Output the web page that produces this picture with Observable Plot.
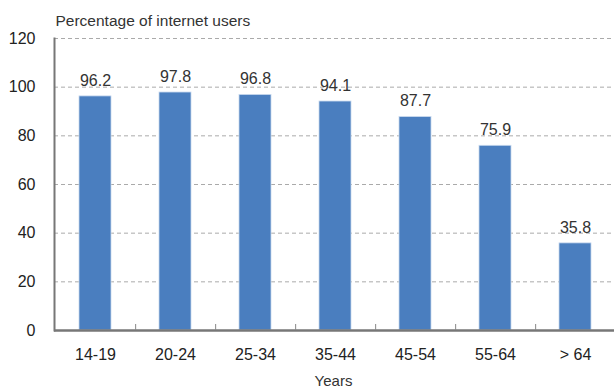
<!DOCTYPE html>
<html>
<head>
<meta charset="utf-8">
<script src="https://cdn.jsdelivr.net/npm/d3@7"></script>
<script src="https://cdn.jsdelivr.net/npm/@observablehq/plot@0.6"></script>
<style>
  html, body { margin: 0; padding: 0; background: #fff; }
  #chart svg { display: block; }
</style>
</head>
<body>
<div id="chart"></div>
<script>
// Share of internet users by age group
const ageGroups = ["14-19", "20-24", "25-34", "35-44", "45-54", "55-64", "> 64"];
const userShare = [96.2, 97.8, 96.8, 94.1, 87.7, 75.9, 35.8];
const yTicks = [0, 20, 40, 60, 80, 100, 120];

const data = ageGroups.map((g, i) => ({group: g, value: userShare[i]}));

const W = 614, H = 387;
const margin = {top: 38, right: 0, bottom: 57, left: 54};
const xRange = [margin.left, W + 2];
const step = (xRange[1] - xRange[0]) / ageGroups.length;
const frameH = H - margin.top - margin.bottom;
const font = "'Liberation Sans', Arial, Helvetica, sans-serif";

const chart = Plot.plot({
  width: W,
  height: H,
  marginTop: margin.top,
  marginRight: margin.right,
  marginBottom: margin.bottom,
  marginLeft: margin.left,
  style: {fontFamily: font, color: "#222", background: "#fff", overflow: "hidden"},
  x: {domain: ageGroups, range: xRange, padding: 0.6, paddingOuter: 0.3, label: null},
  y: {domain: [0, 120], label: null},
  marks: [
    Plot.gridY(yTicks.filter(t => t > 0), {stroke: "#aaa", strokeOpacity: 1, strokeDasharray: "4,3", strokeWidth: 1}),
    Plot.barY(data, {x: "group", y: "value", fill: "#4a7ebf", stroke: "#c9d9ee", strokeWidth: 0.8}),
    Plot.text(data, {x: "group", y: "value", text: d => d.value.toFixed(1), dy: -16, fontSize: 16, fill: "#333"}),
    Plot.frame({anchor: "left", stroke: "#777", strokeWidth: 2}),
    Plot.ruleY([0], {stroke: "#777", strokeWidth: 2.5}),
    // boundary ticks between age groups
    Plot.tickX(ageGroups.slice(0, -1), {x: d => d, dx: step / 2, insetTop: frameH - 6, stroke: "#888", strokeWidth: 1}),
    Plot.axisY(yTicks, {tickSize: 0, tickPadding: 19, fontSize: 16, fill: "#222", label: null}),
    Plot.axisX({tickSize: 0, tickPadding: 18, fontSize: 16, letterSpacing: 0.4, fill: "#222", label: null}),
    Plot.text(["Percentage of internet users"], {frameAnchor: "top-left", dx: 1, dy: -24, fontSize: 15.5, fill: "#333", textAnchor: "start"}),
    Plot.text(["Years"], {frameAnchor: "bottom", dx: -1, dy: 55, fontSize: 15, fill: "#333"})
  ]
});

document.getElementById("chart").appendChild(chart);
</script>
</body>
</html>
